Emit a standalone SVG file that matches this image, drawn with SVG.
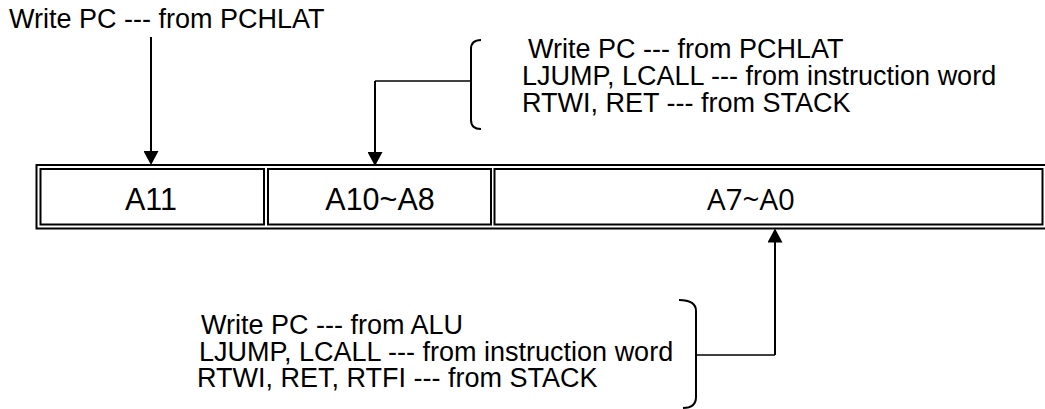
<svg xmlns="http://www.w3.org/2000/svg" width="1045" height="409" viewBox="0 0 1045 409">
<style>
  .t { font-family: "Liberation Sans", Arial, sans-serif; font-size: 27px; fill: #000; }
  .cell { font-family: "Liberation Sans", Arial, sans-serif; font-size: 30.5px; text-anchor: middle; fill: #000; }
  .a70 { font-family: "Open Sans", "Liberation Sans", sans-serif; font-size: 29.5px; text-anchor: middle; fill: #000; }
  .box { fill: none; stroke: #000; stroke-width: 2; }
  .ln { fill: none; stroke: #000; stroke-width: 2; }
  .hl { fill: none; stroke: #000; stroke-width: 1.6; }
</style>
<defs>
  <marker id="ah" markerWidth="15" markerHeight="15" refX="10" refY="7.5" orient="auto" markerUnits="userSpaceOnUse">
    <path d="M0,0 L14,7.5 L0,15 z" fill="#000"/>
  </marker>
</defs>
<rect width="1045" height="409" fill="#fff"/>

<g id="register">
  <rect class="box" x="36.5" y="165" width="1015" height="63.5"/>
  <g id="cell-a11">
    <rect class="box" x="40.5" y="169" width="223.5" height="55.5"/>
    <text class="cell" x="151" y="210">A11</text>
  </g>
  <g id="cell-a10-a8">
    <rect class="box" x="268" y="169" width="223" height="55.5"/>
    <text class="cell" x="380" y="210">A10~A8</text>
  </g>
  <g id="cell-a7-a0">
    <rect class="box" x="494.5" y="169" width="548" height="55.5"/>
    <text class="a70" x="751" y="209.5">A7~A0</text>
  </g>
</g>

<g id="label-top-left">
  <text class="t" x="9" y="28">Write PC --- from PCHLAT</text>
</g>

<g id="label-top-right">
  <text class="t"><tspan x="528" y="58">Write PC --- from PCHLAT</tspan><tspan x="522" y="85">LJUMP, LCALL --- from instruction word</tspan><tspan x="522" y="112">RTWI, RET --- from STACK</tspan></text>
</g>

<g id="label-bottom">
  <text class="t"><tspan x="201" y="334">Write PC --- from ALU</tspan><tspan x="199" y="361">LJUMP, LCALL --- from instruction word</tspan><tspan x="197" y="387">RTWI, RET, RTFI --- from STACK</tspan></text>
</g>

<g id="connectors">
  <path class="ln" d="M151,37 V161" marker-end="url(#ah)"/>
  <path class="ln" d="M481,40 Q471,40 471,49 V120 Q471,129 481,129"/>
  <path class="hl" d="M471,81 H375"/>
  <path class="ln" d="M375,81 V162" marker-end="url(#ah)"/>
  <path class="ln" d="M679,300 Q696,300 696,311 V397 Q696,408 683,408"/>
  <path class="hl" d="M696,355 H775"/>
  <path class="ln" d="M775,355 V232.5" marker-end="url(#ah)"/>
</g>
</svg>
